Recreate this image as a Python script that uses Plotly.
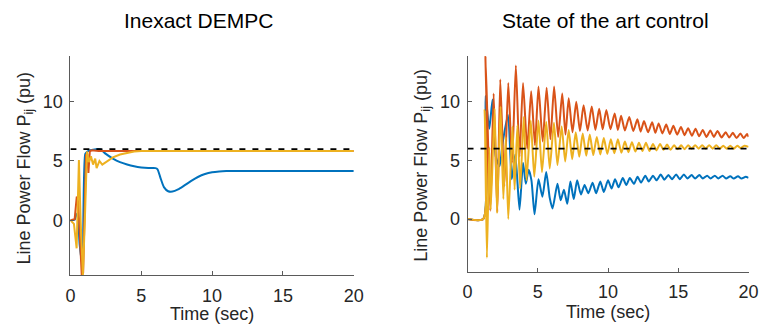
import plotly.graph_objects as go

# ---------------- data ----------------
# Left panel: Inexact DEMPC
left_blue_t = [0, 0.3, 0.4, 0.5, 0.65, 0.85, 1.05, 1.2, 1.4, 1.8, 2.1, 2.5, 3.0, 3.5, 4.0, 4.5, 5.0, 5.5, 6.0,
               6.15, 6.35, 6.6, 6.9, 7.2, 7.6, 8.0, 8.5, 9.0, 9.5, 10.0, 10.5, 11.0, 12.0, 20.0]
left_blue_v = [0, 0.05, 0.4, 0.6, -2.0, -3.8, 5.6, 5.8, 5.9, 6.0, 6.0, 5.6, 5.2, 4.9, 4.7, 4.55, 4.45, 4.4, 4.4,
               4.3, 3.6, 2.8, 2.45, 2.42, 2.6, 2.9, 3.3, 3.65, 3.9, 4.05, 4.12, 4.15, 4.15, 4.15]

left_red_t = [0, 0.3, 0.45, 0.55, 0.8, 0.9, 1.1, 1.18, 1.27, 1.37, 1.5, 2.0, 20.0]
left_red_v = [0, 0.1, 2.0, 1.5, -4.6, -4.4, 5.5, 5.6, 4.0, 5.8, 5.9, 5.85, 5.85]

left_yel_t = [0, 0.25, 0.44, 0.52, 0.6, 0.72, 0.88, 1.02, 1.17, 1.3, 1.45, 1.6, 1.75, 1.85, 2.05, 2.25, 2.6,
              3.0, 3.5, 4.0, 4.5, 5.0, 20.0]
left_yel_v = [0, -0.3, -2.36, 1.0, 5.08, 0.0, -4.6, 0.0, 5.8, 4.9, 5.4, 4.7, 5.2, 4.4, 5.0, 4.7, 5.0,
              5.3, 5.55, 5.7, 5.8, 5.85, 5.85]

# Right panel: State of the art control
right_red_t = [0, 1.12, 1.28, 1.62, 1.86, 2.12, 2.33, 2.62, 2.9, 3.17, 3.44, 3.7, 3.95, 4.25, 4.53, 4.8, 5.05,
               5.35, 5.63, 5.9, 6.16, 6.45, 6.74, 6.97, 7.2, 7.47, 7.74, 8.0, 8.26, 8.55, 8.84, 9.1, 9.37,
               9.62, 9.88, 10.17, 10.47, 10.7, 10.93, 11.2, 11.51, 11.8, 12.09, 12.32, 12.56, 12.85, 13.14,
               13.37, 13.6, 13.87, 14.14, 14.4, 14.65, 14.92, 15.19, 15.45, 15.7, 15.97, 16.23, 16.48, 16.74,
               17.0, 17.28, 17.53, 17.79, 18.08, 18.37, 18.62, 18.88, 19.15, 19.42, 19.65, 19.9, 20.0]
right_red_v = [0, 0, 13.9, 0.7, 10.7, 0.6, 11.9, 2.8, 11.6, 4.8, 13.1, 5.3, 11.6, 6.0, 10.9, 6.3, 11.3,
               6.6, 11.2, 6.8, 11.3, 7.0, 10.7, 7.2, 10.3, 7.4, 10.0, 7.5, 9.7, 7.55, 9.6, 7.6, 9.4,
               7.65, 9.3, 7.65, 9.0, 7.6, 8.8, 7.55, 8.7, 7.5, 8.5, 7.45, 8.35, 7.4, 8.25,
               7.35, 8.15, 7.3, 8.05, 7.25, 7.95, 7.2, 7.85, 7.15, 7.75, 7.1, 7.7, 7.05, 7.6,
               7.0, 7.55, 7.0, 7.5, 6.95, 7.4, 6.95, 7.35, 6.9, 7.3, 6.9, 7.25, 7.0]

right_yel_t = [0, 1.12, 1.22, 1.38, 1.55, 1.65, 1.93, 2.1, 2.35, 2.55, 2.72, 2.9, 3.2, 3.35, 3.55, 3.75, 4.0,
               4.2, 4.5, 4.75, 5.05, 5.3, 5.6, 5.85, 6.15, 6.4, 6.7, 6.95, 7.2, 7.45, 7.7, 7.95, 8.2, 8.45,
               8.7, 8.95, 9.2, 9.45, 9.7, 9.95, 10.2, 10.45, 10.7, 10.95, 11.2, 11.45, 11.7, 11.95, 12.2,
               12.45, 12.7, 12.95, 13.2, 13.45, 13.7, 13.95, 14.2, 14.45, 14.7, 14.95, 15.2, 15.45, 15.7,
               15.95, 16.2, 16.45, 16.7, 16.95, 17.2, 17.45, 17.7, 17.95, 18.2, 18.45, 18.7, 18.95, 19.2,
               19.45, 19.7, 20.0]
right_yel_v = [0, 0, 9.3, -3.3, 6.1, 0.8, 9.4, 0.5, 9.6, 1.7, 7.0, 0.0, 7.9, 2.5, 8.0, 2.6, 8.7,
               3.3, 8.4, 3.6, 8.4, 4.0, 8.3, 4.3, 8.2, 4.6, 7.9, 4.9, 7.6, 5.1, 7.4, 5.3, 7.3, 5.4,
               7.2, 5.45, 7.0, 5.5, 6.9, 5.55, 6.8, 5.6, 6.8, 5.65, 6.6, 5.7, 6.55, 5.75, 6.5,
               5.8, 6.5, 5.8, 6.4, 5.85, 6.4, 5.9, 6.35, 5.9, 6.3, 5.95, 6.3, 5.95, 6.3,
               6.0, 6.3, 6.0, 6.3, 6.0, 6.3, 6.0, 6.3, 6.0, 6.25, 6.0, 6.25, 6.0, 6.25,
               6.05, 6.25, 6.15]

right_blue_t = [0, 1.12, 1.28, 1.55, 1.78, 2.02, 2.28, 2.5, 2.88, 3.15, 3.4, 3.7, 3.95, 4.15, 4.35, 4.55, 4.77,
                5.05, 5.33, 5.6, 5.85, 6.05, 6.4, 6.63, 6.86, 7.1, 7.32, 7.56, 7.8, 8.07, 8.33, 8.6, 8.9,
                9.15, 9.45, 9.7, 10.0, 10.25, 10.5, 10.75, 11.05, 11.3, 11.55, 11.85, 12.1, 12.35, 12.65,
                12.9, 13.2, 13.45, 13.75, 14.0, 14.3, 14.55, 14.85, 15.1, 15.4, 15.65, 15.95, 16.2, 16.5,
                16.75, 17.05, 17.3, 17.6, 17.85, 18.15, 18.4, 18.7, 18.95, 19.25, 19.5, 19.8, 20.0]
right_blue_v = [0, 0, 10.5, 7.7, 10.2, 5.3, 4.5, 6.5, 8.9, 3.4, 5.5, 0.8, 4.8, 3.0, 4.2, 3.3, 0.4,
                3.4, 1.9, 4.0, 1.8, 0.9, 3.0, 1.6, 2.5, 1.3, 3.2, 1.7, 3.3, 2.1, 2.9, 2.2, 3.1,
                2.2, 3.2, 2.3, 3.3, 2.6, 3.4, 2.7, 3.5, 2.9, 3.5, 3.0, 3.6, 3.1, 3.7,
                3.2, 3.7, 3.3, 3.8, 3.35, 3.75, 3.4, 3.8, 3.4, 3.8, 3.45, 3.75, 3.45, 3.75,
                3.45, 3.7, 3.45, 3.7, 3.45, 3.7, 3.45, 3.65, 3.45, 3.65, 3.45, 3.6, 3.5]

ref_t = [0, 20]
ref_v = [6, 6]

x_ticks = [0, 5, 10, 15, 20]
y_ticks = [0, 5, 10]
titles = ["Inexact DEMPC", "State of the art control"]
x_label = "Time (sec)"
y_label = "Line Power Flow P<sub>ij</sub> (pu)"

BLUE, RED, YEL = "#0072BD", "#D95319", "#EDB120"
W, H = 771, 325

fig = go.Figure()

def add(t, v, color, xa, ya, shape="linear"):
    fig.add_trace(go.Scatter(x=t, y=v, mode="lines", xaxis=xa, yaxis=ya, showlegend=False,
                             line=dict(color=color, width=2.0, shape=shape, smoothing=0.6),
                             hoverinfo="skip"))

add(left_blue_t, left_blue_v, BLUE, "x", "y", "spline")
add(left_red_t, left_red_v, RED, "x", "y")
add(left_yel_t, left_yel_v, YEL, "x", "y")
fig.add_trace(go.Scatter(x=ref_t, y=ref_v, mode="lines", xaxis="x", yaxis="y", showlegend=False,
                         line=dict(color="black", width=1.8, dash="6px,7px"), hoverinfo="skip"))

add(right_blue_t, right_blue_v, BLUE, "x2", "y2", "spline")
add(right_red_t, right_red_v, RED, "x2", "y2", "spline")
add(right_yel_t, right_yel_v, YEL, "x2", "y2", "spline")
fig.add_trace(go.Scatter(x=ref_t, y=ref_v, mode="lines", xaxis="x2", yaxis="y2", showlegend=False,
                         line=dict(color="black", width=1.8, dash="6px,7px"), hoverinfo="skip"))

tickfont = dict(family="Liberation Sans, Arial, sans-serif", size=18, color="#262626")
axis_common = dict(showgrid=False, zeroline=False, showline=True, linecolor="#5a5a5a", linewidth=1,
                   ticks="inside", ticklen=4, tickcolor="#5a5a5a", tickfont=tickfont, mirror=False)

# pixel geometry
L_x0, L_x1, L_ytop, L_ybot = 66.7, 355.7, 56, 275
R_x0, R_x1, R_ytop, R_ybot = 471.7, 758.3, 56, 271.7

fig.update_layout(
    width=W, height=H, margin=dict(l=0, r=0, t=0, b=0),
    paper_bgcolor="white", plot_bgcolor="white",
    xaxis=dict(domain=[L_x0 / W, L_x1 / W], range=[0, 20], tickvals=x_ticks, anchor="y",
               ticklabelstandoff=4, **axis_common),
    yaxis=dict(domain=[1 - L_ybot / H, 1 - L_ytop / H], range=[-4.61, 13.85], tickvals=y_ticks, anchor="x",
               ticklabelstandoff=3, **axis_common),
    xaxis2=dict(domain=[R_x0 / W, R_x1 / W], range=[0, 20], tickvals=x_ticks, anchor="y2",
                ticklabelstandoff=4, **axis_common),
    yaxis2=dict(domain=[1 - R_ybot / H, 1 - R_ytop / H], range=[-4.49, 13.9], tickvals=y_ticks, anchor="x2",
                ticklabelstandoff=3, **axis_common),
)

font_lab = dict(family="Liberation Sans, Arial, sans-serif", size=18, color="#262626")
font_title = dict(family="Liberation Sans, Arial, sans-serif", size=21, color="#000000")
ann = []
# titles
ann.append(dict(text=titles[0], x=197 / W, y=1 - 20 / H, xref="paper", yref="paper", showarrow=False,
                font=font_title, xanchor="center", yanchor="middle"))
ann.append(dict(text=titles[1], x=612 / W, y=1 - 20 / H, xref="paper", yref="paper", showarrow=False,
                font=font_title, xanchor="center", yanchor="middle"))
# x labels
ann.append(dict(text=x_label, x=211 / W, y=1 - 314 / H, xref="paper", yref="paper", showarrow=False,
                font=font_lab, xanchor="center", yanchor="middle"))
ann.append(dict(text=x_label, x=615 / W, y=1 - 312 / H, xref="paper", yref="paper", showarrow=False,
                font=font_lab, xanchor="center", yanchor="middle"))
# y labels
ann.append(dict(text=y_label, x=20 / W, y=1 - 168 / H, xref="paper", yref="paper", showarrow=False,
                font=font_lab, textangle=-90, xanchor="center", yanchor="middle"))
ann.append(dict(text=y_label, x=425 / W, y=1 - 165 / H, xref="paper", yref="paper", showarrow=False,
                font=font_lab, textangle=-90, xanchor="center", yanchor="middle"))
fig.update_layout(annotations=ann)

fig.write_html("out.html", config={"displayModeBar": False},
               post_script="document.body.style.margin='0';document.body.style.overflow='hidden';")
